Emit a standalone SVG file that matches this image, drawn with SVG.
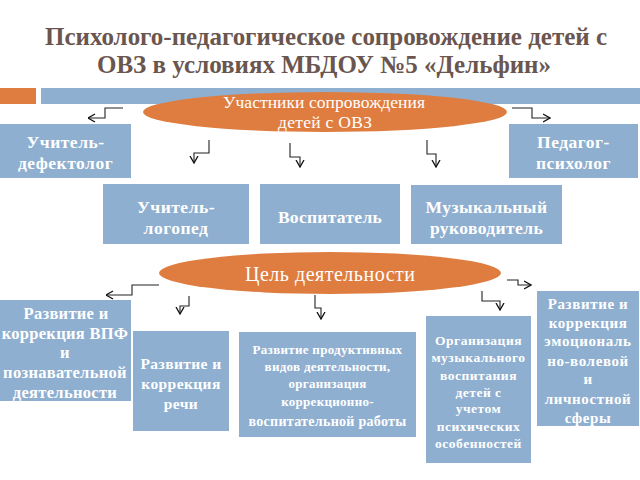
<svg xmlns="http://www.w3.org/2000/svg" width="640" height="480" viewBox="0 0 640 480">
<defs>
<style>
.title{font-family:"Liberation Serif","Times New Roman",serif;font-weight:bold;font-size:25px;fill:#6a564f;text-anchor:middle}
.box{fill:#8fafd0}
.bt{font-family:"Liberation Serif","Times New Roman",serif;font-weight:bold;fill:#ffffff;text-anchor:middle}
.ell{fill:#df7d41}
.et{font-family:"Liberation Serif","Times New Roman",serif;fill:#ffffff;text-anchor:middle}
.con{fill:none;stroke:#222;stroke-width:1.1;marker-end:url(#arr)}
</style>
<marker id="arr" viewBox="0 0 8 10" refX="7.5" refY="5" markerWidth="8" markerHeight="10" markerUnits="userSpaceOnUse" orient="auto">
<path d="M0.5,1 L7.5,5 L0.5,9" fill="none" stroke="#111" stroke-width="1.3"/>
</marker>
</defs>
<rect width="640" height="480" fill="#ffffff"/>

<g id="title">
<text class="title" x="326" y="45" textLength="562" lengthAdjust="spacing">Психолого-педагогическое сопровождение детей с</text>
<text class="title" x="324" y="73" textLength="454" lengthAdjust="spacing">ОВЗ в условиях МБДОУ №5 «Дельфин»</text>
</g>

<g id="bars">
<rect x="0" y="88" width="36" height="16" fill="#df7d41"/>
<rect x="41" y="88" width="599" height="16" fill="#8fafd0"/>
</g>

<g id="connectors">
<path class="con" d="M123,108 H105 V118 H88"/>
<path class="con" d="M209,140 V153 H194 V163"/>
<path class="con" d="M290,143 V157 H300 V167"/>
<path class="con" d="M427,140 V154 H436 V167"/>
<path class="con" d="M512,108 H532 V118 H550"/>
<path class="con" d="M159,285 H132 V295 H106"/>
<path class="con" d="M189,296 V306 H180 V314"/>
<path class="con" d="M315,295 V308 H321 V319"/>
<path class="con" d="M482,291 V301 H500 V310"/>
<path class="con" d="M507,280 H518 V285 H531"/>
</g>

<g id="participants">
<ellipse class="ell" cx="325" cy="112" rx="182" ry="20"/>
<text class="et" font-size="17.5" x="324" y="108" textLength="202" lengthAdjust="spacing">Участники сопровождения</text>
<text class="et" font-size="17.5" x="325" y="128" textLength="94" lengthAdjust="spacing">детей с ОВЗ</text>
</g>

<g id="defectolog">
<rect class="box" x="0" y="124" width="131" height="54"/>
<text class="bt" font-size="17.5" letter-spacing="0.5"><tspan x="65.5" y="148">Учитель-</tspan><tspan x="65.5" y="169">дефектолог</tspan></text>
</g>

<g id="psycholog">
<rect class="box" x="509" y="124" width="129" height="54"/>
<text class="bt" font-size="17.5" letter-spacing="0.5"><tspan x="573.5" y="148">Педагог-</tspan><tspan x="573.5" y="169">психолог</tspan></text>
</g>

<g id="logoped">
<rect class="box" x="103" y="184" width="146" height="60"/>
<text class="bt" font-size="17.5" letter-spacing="0.5"><tspan x="176" y="213">Учитель-</tspan><tspan x="176" y="234">логопед</tspan></text>
</g>

<g id="vospitatel">
<rect class="box" x="260" y="184" width="140" height="60"/>
<text class="bt" font-size="17.5" letter-spacing="0.3" x="330" y="223">Воспитатель</text>
</g>

<g id="muz">
<rect class="box" x="411" y="185" width="151" height="59"/>
<text class="bt" font-size="17.5" letter-spacing="0.4"><tspan x="486.5" y="213">Музыкальный</tspan><tspan x="486.5" y="234">руководитель</tspan></text>
</g>

<g id="goal">
<ellipse class="ell" cx="330" cy="273" rx="171" ry="21"/>
<text class="et" font-size="20" x="330" y="281" textLength="170" lengthAdjust="spacing">Цель деятельности</text>
</g>

<g id="vpf">
<rect class="box" x="0" y="300" width="131" height="101"/>
<text class="bt" font-size="16.5" letter-spacing="0.3"><tspan x="66" y="319">Развитие и</tspan><tspan x="65" y="339">коррекция ВПФ</tspan><tspan x="65" y="358">и</tspan><tspan x="65" y="378">познавательной</tspan><tspan x="65" y="398">деятельности</tspan></text>
</g>

<g id="rech">
<rect class="box" x="133" y="331" width="96" height="100"/>
<text class="bt" font-size="15.5" letter-spacing="0.4"><tspan x="181" y="369">Развитие и</tspan><tspan x="181" y="389">коррекция</tspan><tspan x="181" y="409">речи</tspan></text>
</g>

<g id="productive">
<rect class="box" x="239" y="332" width="177" height="105"/>
<text class="bt" font-size="13" letter-spacing="0.3"><tspan x="327.5" y="353.5">Развитие продуктивных</tspan><tspan x="327.5" y="370.5">видов деятельности,</tspan><tspan x="327.5" y="387.5">организация</tspan><tspan x="327.5" y="405.5">коррекционно-</tspan></text>
<text class="bt" font-size="14" letter-spacing="0.3" x="327.5" y="426">воспитательной работы</text>
</g>

<g id="music">
<rect class="box" x="426" y="316" width="105" height="147"/>
<text class="bt" font-size="13.5" letter-spacing="0.5"><tspan x="478.5" y="345">Организация</tspan><tspan x="478.5" y="362">музыкального</tspan><tspan x="478.5" y="380">воспитания</tspan><tspan x="478.5" y="397">детей с</tspan><tspan x="478.5" y="413">учетом</tspan><tspan x="478.5" y="431">психических</tspan><tspan x="478.5" y="448">особенностей</tspan></text>
</g>

<g id="emotion">
<rect class="box" x="537" y="291" width="102" height="135"/>
<text class="bt" font-size="15" letter-spacing="0.6"><tspan x="588" y="308.5">Развитие и</tspan><tspan x="588" y="327.5">коррекция</tspan><tspan x="588" y="345.5">эмоциональ</tspan><tspan x="588" y="365.5">но-волевой</tspan><tspan x="588" y="383.5">и</tspan><tspan x="588" y="403.5">личностной</tspan><tspan x="588" y="422.5">сферы</tspan></text>
</g>
</svg>
